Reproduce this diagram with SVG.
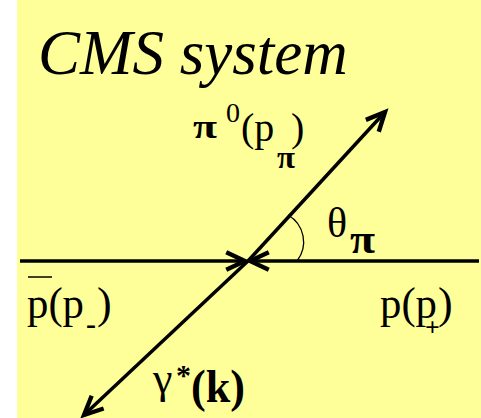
<svg xmlns="http://www.w3.org/2000/svg" width="481" height="418" viewBox="0 0 481 418">
<defs>
<style>
.t{font-family:'Liberation Serif','Times New Roman',serif;fill:#000}
.b{font-weight:bold}
.ln{stroke:#000;stroke-width:3.5;fill:none}
</style>
<marker id="ah" markerUnits="userSpaceOnUse" markerWidth="30" markerHeight="30" viewBox="-20 -10 24 20" refX="0" refY="0" orient="auto">
<path d="M-15,-7 L0,0 L-15,7" stroke="#000" stroke-width="3.5" fill="none" stroke-linejoin="miter"/>
</marker>
</defs>
<rect x="17" y="0" width="464" height="418" fill="#FFFF99"/>
<text id="title" class="t" x="38" y="74" font-size="63" font-style="italic">CMS system</text>
<g id="connectors">
<line class="ln" x1="20" y1="261" x2="245" y2="261" marker-end="url(#ah)"/>
<line class="ln" x1="479" y1="261" x2="250" y2="261" marker-end="url(#ah)"/>
<line class="ln" x1="248" y1="261" x2="385" y2="112" marker-end="url(#ah)"/>
<line class="ln" x1="248" y1="261" x2="84" y2="415" marker-end="url(#ah)"/>
<path d="M288,215 A31,31 0 0,1 297,261" stroke="#000" stroke-width="1.3" fill="none"/>
</g>
<g id="pi0">
<text class="t b" x="193" y="138" font-size="34" textLength="24" lengthAdjust="spacingAndGlyphs">π</text>
<text class="t" x="226" y="122" font-size="28">0</text>
<text class="t" x="241" y="141" font-size="40">(p</text>
<text class="t b" x="277" y="168" font-size="32" textLength="18" lengthAdjust="spacingAndGlyphs">π</text>
<text class="t" x="291" y="141" font-size="40">)</text>
</g>
<g id="theta">
<text class="t" x="327" y="237" font-size="42">θ</text>
<text class="t b" x="350" y="253" font-size="42" textLength="25" lengthAdjust="spacingAndGlyphs">π</text>
</g>
<g id="pbar">
<line x1="28" y1="277" x2="52" y2="277" stroke="#000" stroke-width="1.5"/>
<text class="t" x="27" y="318" font-size="44" textLength="57" lengthAdjust="spacingAndGlyphs">p(p</text>
<text class="t b" x="86" y="334" font-size="30">-</text>
<text class="t" x="97" y="318" font-size="44">)</text>
</g>
<g id="p">
<text class="t" x="380" y="318" font-size="44" textLength="57" lengthAdjust="spacingAndGlyphs">p(p</text>
<text class="t b" x="425" y="336" font-size="26">+</text>
<text class="t" x="438" y="318" font-size="44">)</text>
</g>
<g id="gamma">
<text class="t" x="153" y="393" font-size="44">γ</text>
<text class="t b" x="176" y="385" font-size="30">*</text>
<text class="t b" x="191" y="402" font-size="47" textLength="54" lengthAdjust="spacingAndGlyphs">(k)</text>
</g>
</svg>
